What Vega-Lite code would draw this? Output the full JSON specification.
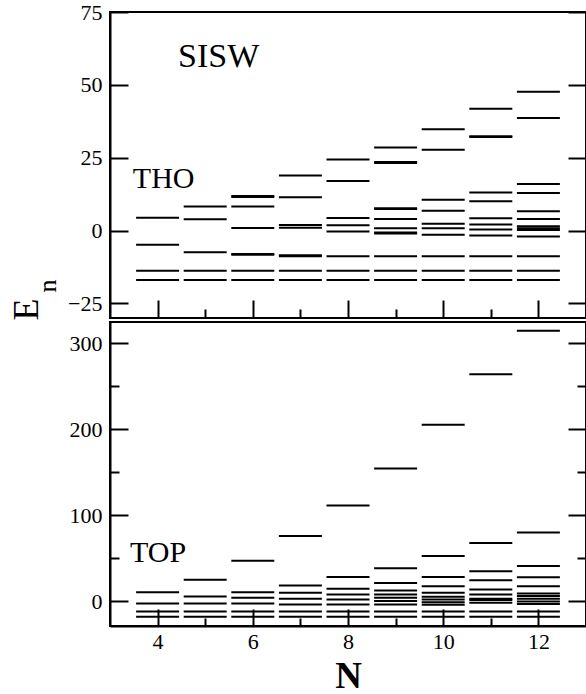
{
  "$schema": "https://vega.github.io/schema/vega-lite/v6.json",
  "padding": {"left": 7, "top": 0, "right": 0, "bottom": 0},
  "spacing": 0,
  "config": {
    "font": "Liberation Serif",
    "view": {"stroke": "black", "strokeWidth": 2},
    "axis": {"grid": false, "domainColor": "black", "domainWidth": 2, "tickColor": "black", "tickWidth": 2,
      "labelFont": "Liberation Serif", "labelFontSize": 22, "labelColor": "black",
      "titleFont": "Liberation Serif", "titleColor": "black", "titleFontWeight": "normal"}
  },
  "datasets": {
    "tho": [
      {"N":4,"E":4.4},{"N":4,"E":-4.9},{"N":4,"E":-13.8},{"N":4,"E":-17.0},
      {"N":5,"E":8.3},{"N":5,"E":3.9},{"N":5,"E":-7.4},{"N":5,"E":-13.8},{"N":5,"E":-17.0},
      {"N":6,"E":11.9},{"N":6,"E":11.5},{"N":6,"E":8.3},{"N":6,"E":0.9},{"N":6,"E":-8.0},{"N":6,"E":-8.3},{"N":6,"E":-13.8},{"N":6,"E":-17.0},
      {"N":7,"E":18.9},{"N":7,"E":11.4},{"N":7,"E":1.9},{"N":7,"E":1.0},{"N":7,"E":-8.5},{"N":7,"E":-8.8},{"N":7,"E":-13.8},{"N":7,"E":-17.0},
      {"N":8,"E":24.4},{"N":8,"E":17.0},{"N":8,"E":4.3},{"N":8,"E":1.8},{"N":8,"E":-0.3},{"N":8,"E":-8.8},{"N":8,"E":-13.8},{"N":8,"E":-17.0},
      {"N":9,"E":28.5},{"N":9,"E":23.5},{"N":9,"E":23.2},{"N":9,"E":7.7},{"N":9,"E":7.4},{"N":9,"E":4.0},{"N":9,"E":0.8},{"N":9,"E":-0.7},{"N":9,"E":-1.0},{"N":9,"E":-8.8},{"N":9,"E":-13.8},{"N":9,"E":-17.0},
      {"N":10,"E":34.8},{"N":10,"E":27.7},{"N":10,"E":10.6},{"N":10,"E":6.8},{"N":10,"E":2.3},{"N":10,"E":0.8},{"N":10,"E":-1.4},{"N":10,"E":-8.8},{"N":10,"E":-13.8},{"N":10,"E":-17.0},
      {"N":11,"E":41.8},{"N":11,"E":32.4},{"N":11,"E":32.1},{"N":11,"E":13.1},{"N":11,"E":10.1},{"N":11,"E":4.2},{"N":11,"E":2.1},{"N":11,"E":0.4},{"N":11,"E":-1.7},{"N":11,"E":-8.8},{"N":11,"E":-13.8},{"N":11,"E":-17.0},
      {"N":12,"E":47.6},{"N":12,"E":38.6},{"N":12,"E":16.0},{"N":12,"E":12.9},{"N":12,"E":6.6},{"N":12,"E":4.0},{"N":12,"E":1.5},{"N":12,"E":0.8},{"N":12,"E":0.2},{"N":12,"E":-2.0},{"N":12,"E":-8.8},{"N":12,"E":-13.8},{"N":12,"E":-17.0}
    ],
    "top": [
      {"N":4,"E":10.4},{"N":4,"E":-2.8},{"N":4,"E":-12.1},{"N":4,"E":-18.2},
      {"N":5,"E":25.0},{"N":5,"E":5.3},{"N":5,"E":-2.8},{"N":5,"E":-12.1},{"N":5,"E":-18.2},
      {"N":6,"E":47.0},{"N":6,"E":10.4},{"N":6,"E":3.8},{"N":6,"E":-2.8},{"N":6,"E":-12.1},{"N":6,"E":-18.2},
      {"N":7,"E":75.7},{"N":7,"E":18.1},{"N":7,"E":9.6},{"N":7,"E":2.7},{"N":7,"E":-4.0},{"N":7,"E":-12.1},{"N":7,"E":-18.2},
      {"N":8,"E":111.2},{"N":8,"E":28.2},{"N":8,"E":14.3},{"N":8,"E":7.6},{"N":8,"E":1.9},{"N":8,"E":-4.0},{"N":8,"E":-12.1},{"N":8,"E":-18.2},
      {"N":9,"E":154.5},{"N":9,"E":38.2},{"N":9,"E":21.2},{"N":9,"E":12.3},{"N":9,"E":7.6},{"N":9,"E":3.8},{"N":9,"E":0.0},{"N":9,"E":-4.0},{"N":9,"E":-12.1},{"N":9,"E":-18.2},
      {"N":10,"E":205.4},{"N":10,"E":52.5},{"N":10,"E":28.2},{"N":10,"E":17.4},{"N":10,"E":9.6},{"N":10,"E":5.0},{"N":10,"E":1.9},{"N":10,"E":-1.2},{"N":10,"E":-4.3},{"N":10,"E":-12.1},{"N":10,"E":-18.2},
      {"N":11,"E":264.2},{"N":11,"E":67.6},{"N":11,"E":34.8},{"N":11,"E":24.3},{"N":11,"E":13.4},{"N":11,"E":7.6},{"N":11,"E":2.7},{"N":11,"E":1.2},{"N":11,"E":-2.0},{"N":11,"E":-12.1},{"N":11,"E":-18.2},
      {"N":12,"E":314.7},{"N":12,"E":80.0},{"N":12,"E":40.9},{"N":12,"E":27.8},{"N":12,"E":17.4},{"N":12,"E":8.8},{"N":12,"E":5.8},{"N":12,"E":2.7},{"N":12,"E":-0.5},{"N":12,"E":-3.5},{"N":12,"E":-12.1},{"N":12,"E":-18.2}
    ]
  },
  "vconcat": [
    {
      "width": 476, "height": 306,
      "layer": [
        {
          "data": {"name": "tho"},
          "mark": {"type": "tick", "orient": "horizontal", "size": 43, "thickness": 2, "color": "black", "opacity": 1},
          "encoding": {
            "x": {"field": "N", "type": "quantitative", "scale": {"domain": [3, 13], "nice": false, "zero": false},
              "axis": {"values": [4,5,6,7,8,9,10,11,12], "labels": false, "title": null, "domain": false,
                "tickSize": {"condition": {"test": "datum.value % 2 === 0", "value": -18}, "value": -9}}},
            "y": {"field": "E", "type": "quantitative", "scale": {"domain": [-30, 75], "nice": false, "zero": false},
              "axis": {"values": [-25, 0, 25, 50, 75], "tickSize": -18, "labelPadding": 26,
                "title": "E", "titleFontSize": 36, "titleAngle": 270, "titleAlign": "left", "titleBaseline": "alphabetic", "titleX": -73, "titleY": 308}}
          }
        },
        {
          "data": {"values": [{"label": "SISW", "N": 4.43, "E": 56.2}]},
          "mark": {"type": "text", "align": "left", "baseline": "alphabetic", "fontSize": 34, "font": "Liberation Serif", "color": "black"},
          "encoding": {
            "x": {"field": "N", "type": "quantitative", "scale": {"domain": [3, 13], "nice": false, "zero": false}},
            "y": {"field": "E", "type": "quantitative", "scale": {"domain": [-30, 75], "nice": false, "zero": false},
              "axis": {"orient": "right", "values": [-25, 0, 25, 50, 75], "labels": false, "tickSize": -18,
                "title": "n", "titleFontSize": 26, "titleAngle": 270, "titleAlign": "left", "titleBaseline": "alphabetic", "titleX": -531, "titleY": 280}},
            "text": {"field": "label"}
          }
        },
        {
          "data": {"values": [{"label": "THO", "N": 3.48, "E": 14.7}]},
          "mark": {"type": "text", "align": "left", "baseline": "alphabetic", "fontSize": 30, "font": "Liberation Serif", "color": "black"},
          "encoding": {
            "x": {"field": "N", "type": "quantitative", "scale": {"domain": [3, 13], "nice": false, "zero": false}},
            "y": {"field": "E", "type": "quantitative", "scale": {"domain": [-30, 75], "nice": false, "zero": false}, "axis": null},
            "text": {"field": "label"}
          }
        }
      ],
      "resolve": {"axis": {"y": "independent"}}
    },
    {
      "width": 476, "height": 304,
      "layer": [
        {
          "data": {"name": "top"},
          "mark": {"type": "tick", "orient": "horizontal", "size": 43, "thickness": 2, "color": "black", "opacity": 1},
          "encoding": {
            "x": {"field": "N", "type": "quantitative", "scale": {"domain": [3, 13], "nice": false, "zero": false},
              "axis": {"values": [4,5,6,7,8,9,10,11,12], "labelExpr": "datum.value % 2 === 0 ? datum.label : ''",
                "labelPadding": 22, "labelFlush": false,
                "tickSize": {"condition": {"test": "datum.value % 2 === 0", "value": -17}, "value": -8},
                "title": "N", "titleFontSize": 37, "titleFontWeight": "bold", "titleBaseline": "alphabetic", "titleY": 61}},
            "y": {"field": "E", "type": "quantitative", "scale": {"domain": [-29, 325], "nice": false, "zero": false},
              "axis": {"values": [0, 50, 100, 150, 200, 250, 300], "labelExpr": "datum.value % 100 === 0 ? datum.label : ''",
                "tickSize": {"condition": {"test": "datum.value % 100 === 0", "value": -18}, "value": -9}, "labelPadding": 26,
                "title": null}}
          }
        },
        {
          "data": {"values": [{"label": "TOP", "N": 3.42, "E": 45.6}]},
          "mark": {"type": "text", "align": "left", "baseline": "alphabetic", "fontSize": 30, "font": "Liberation Serif", "color": "black"},
          "encoding": {
            "x": {"field": "N", "type": "quantitative", "scale": {"domain": [3, 13], "nice": false, "zero": false}},
            "y": {"field": "E", "type": "quantitative", "scale": {"domain": [-29, 325], "nice": false, "zero": false},
              "axis": {"orient": "right", "values": [0, 50, 100, 150, 200, 250, 300], "labels": false, "title": null,
                "tickSize": {"condition": {"test": "datum.value % 100 === 0", "value": -18}, "value": -9}}},
            "text": {"field": "label"}
          }
        }
      ],
      "resolve": {"axis": {"y": "independent"}}
    }
  ]
}
